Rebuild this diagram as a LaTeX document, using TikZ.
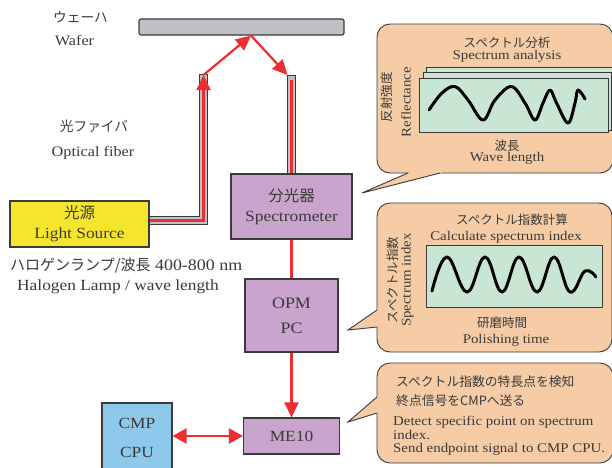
\documentclass[tikz,border=0pt]{standalone}
\usepackage{fontspec}
\setmainfont{Liberation Serif}[FakeStretch=1.12]
\newfontfamily\jpfont{Noto Sans CJK JP}
\usepackage{tikz}
\usetikzlibrary{arrows.meta, calc, positioning}
\definecolor{Ink}       {HTML}{3A3A3A}
\definecolor{LampYellow}{HTML}{F5E62B}
\definecolor{Lilac}     {HTML}{C9A4CD}
\definecolor{SkyBlue}   {HTML}{8EC9EC}
\definecolor{Peach}     {HTML}{F6CCA6}
\definecolor{Mint}      {HTML}{C9E6D4}
\definecolor{WaferGrey} {HTML}{BEC0C6}
\definecolor{RayRed}    {HTML}{EE2D30}
\tikzset{
  ray/.style={draw=RayRed, line width=2.2pt},
  ray arrow/.style={ray, -{Triangle[length=15pt,width=14pt]}},
  ray both/.style={ray, {Triangle[length=14pt,width=15pt]}-{Triangle[length=14pt,width=15pt]}},
}
\begin{document}
\begin{tikzpicture}[x=1pt, y=-1pt, text=Ink,
    box/.style={draw=Ink, line width=1.1pt, fill=Lilac, align=center,
                inner sep=0pt, font=\fontsize{15.5}{20}\selectfont},
    speech/.style={draw=Ink, line width=0.9pt, fill=Peach, rounded corners=13pt},
    panel/.style={draw=Ink, line width=1pt, fill=Mint},
    wave/.style={line width=3pt, line cap=round, line join=round},
    sidetext/.style={inner sep=0pt, font=\fontsize{14.5}{17}\selectfont},
    jpside/.style={inner sep=0pt, font=\jpfont\fontsize{13.7}{16}\selectfont},
    speechtext/.style={inner sep=0pt, font=\fontsize{13.3}{14}\selectfont},
    jpspeech/.style={inner sep=0pt, font=\jpfont\fontsize{12.5}{15}\selectfont},
    fiber/.style={line width=9.5pt, draw=Ink},
    fiber core/.style={line width=7.5pt, draw=WaferGrey}]
  \useasboundingbox (0,0) rectangle (612,467);
  \fill[white] (0,0) rectangle (612,467);
  \clip (0,0) rectangle (612,467);
  % Boxes
  \node[box, fill=WaferGrey, minimum width=205pt, minimum height=16pt,
        rounded corners=2pt] (wafer) at (241.5,27) {};
  \node[box, fill=LampYellow, minimum width=139pt, minimum height=46pt] (lamp)
        at (79.5,224) {{\jpfont 光源}\\Light Source};
  \node[box, minimum width=121pt, minimum height=65pt] (spec)
        at (291.5,206.5) {{\jpfont 分光器}\\Spectrometer};
  \node[box, minimum width=93pt, minimum height=73pt,
        font=\fontsize{16}{25}\selectfont] (opm) at (291.5,315.5) {OPM\\PC};
  \node[box, minimum width=96pt, minimum height=36pt] (me10) at (291.5,436) {ME10};
  \node[box, fill=SkyBlue, minimum width=70pt, minimum height=69pt,
        font=\fontsize{15.5}{29}\selectfont] (cmp) at (137,437.5) {CMP\\CPU};
  % Side labels
  \node[jpside]   (waferjp) at (80.5,17.5) {ウェーハ};
  \node[sidetext] (waferen) at (74.5,40) {Wafer};
  \node[jpside]   (fiberjp) at (94,126.5) {光ファイバ};
  \node[sidetext] (fiberen) at (93,153) {Optical fiber};
  \node[sidetext, anchor=west, font=\fontsize{16}{18}\selectfont] (lampjp)
        at (10,265.5) {{\jpfont\fontsize{15}{18}\selectfont ハロゲンランプ/波長} 400-800 nm};
  \node[sidetext, anchor=west, font=\fontsize{15.5}{18}\selectfont] (lampen)
        at (17,286.5) {Halogen Lamp / wave length};
  % Optical fibers
  \coordinate (fibL) at (203.5,75);
  \coordinate (fibR) at (291.5,76);
  \coordinate (refl) at ([xshift=9.5pt]wafer.south);
  \draw[fiber, shorten >=-1pt] ([yshift=3.5pt]lamp.east) -| (fibL);
  \draw[fiber core] ([yshift=3.5pt]lamp.east) -| (fibL);
  \draw[ray arrow] ([yshift=3.5pt]lamp.east) -| (fibL);
  \draw[fiber, shorten >=-1pt] (spec.north) -- (fibR);
  \draw[fiber core] (spec.north) -- (fibR);
  \draw[ray] (spec.north) -- ([yshift=-4pt]fibR);
  \draw[ray arrow] (fibL) -- (refl);
  \draw[ray arrow] (refl) -- ([xshift=-4pt,yshift=1pt]fibR);
  % Signal path
  \draw[ray] (spec) -- (opm);
  \draw[ray arrow] (opm) -- (me10);
  \draw[ray both] (cmp.east |- me10.west) -- (me10.west);
  % Speech bubble: spectrum analysis
  \draw[speech] (377,24) rectangle (613,173);
  \coordinate (tipA) at (362,193);
  \coordinate (baseA1) at (408,173);
  \coordinate (baseA2) at (440,173);
  \fill[Peach] (tipA) -- ($(tipA)!1.12!(baseA1)$) -- ($(tipA)!1.12!(baseA2)$) -- cycle;
  \draw[Ink, line width=0.9pt] (baseA1) -- (tipA) -- (baseA2);
  \draw[panel] (426.5,67) rectangle (616,128);
  \draw[panel] (423,72.5) rectangle (611.5,130);
  \draw[panel] (419,78) rectangle (608,132);
  \draw[wave] plot[smooth, tension=0.6] coordinates {(429,110) (441.5,93.5)
    (455,86.5) (468,100) (483,120) (495,100) (511.5,86.5) (525,103) (535,120)
    (543,103) (550,90) (556.5,103) (568,123) (575,103) (578,90) (585,99)};
  \node[jpspeech]   (anajp) at (507,42.5) {スペクトル分析};
  \node[speechtext] (anaen) at (507,56.5) {Spectrum analysis};
  \node[jpspeech, rotate=90]   (refjp) at (387,97) {反射強度};
  \node[speechtext, rotate=90] (refen) at (406,102) {Reflectance};
  \node[jpspeech]   (wavejp) at (507,145.5) {波長};
  \node[speechtext] (waveen) at (507,158.5) {Wave length};
  % Speech bubble: spectrum index
  \draw[speech] (377,203) rectangle (612,352);
  \coordinate (tipB) at (348,330);
  \coordinate (baseB1) at (377,310);
  \coordinate (baseB2) at (377,327);
  \fill[Peach] (tipB) -- ($(tipB)!1.12!(baseB1)$) -- ($(tipB)!1.12!(baseB2)$) -- cycle;
  \draw[Ink, line width=0.9pt] (baseB1) -- (tipB) -- (baseB2);
  \draw[panel] (426,245) rectangle (602,307);
  \draw[wave] plot[smooth, tension=0.7] coordinates {(432,291) (447,257)
    (467,292) (485,257) (502,292) (519,257) (537,292) (554,257) (570,292)
    (585,271) (596,277)};
  \node[jpspeech]   (idxjp) at (512,219.5) {スペクトル指数計算};
  \node[speechtext] (idxen) at (506,237) {Calculate spectrum index};
  \node[jpspeech, rotate=90]   (sijp) at (393,280) {スペクトル指数};
  \node[speechtext, rotate=90] (sien) at (407.5,280) {Spectrum index};
  \node[jpspeech]   (poljp) at (502,323) {研磨時間};
  \node[speechtext] (polen) at (506,340) {Polishing time};
  % Speech bubble: endpoint detection
  \draw[speech] (377,363) rectangle (613,463);
  \coordinate (tipC) at (348,422);
  \coordinate (baseC1) at (377,397);
  \coordinate (baseC2) at (377,413);
  \fill[Peach] (tipC) -- ($(tipC)!1.12!(baseC1)$) -- ($(tipC)!1.12!(baseC2)$) -- cycle;
  \draw[Ink, line width=0.9pt] (baseC1) -- (tipC) -- (baseC2);
  \node[jpspeech, anchor=base west, font=\jpfont\fontsize{12.8}{15}\selectfont]
        (detjp1) at (396,386) {スペクトル指数の特長点を検知};
  \node[jpspeech, anchor=base west, font=\jpfont\fontsize{12.8}{15}\selectfont]
        (detjp2) at (396,405) {終点信号をCMPへ送る};
  \node[speechtext, anchor=base west] (deten1) at (393,425) {Detect specific point on spectrum};
  \node[speechtext, anchor=base west] (deten2) at (393,439) {index.};
  \node[speechtext, anchor=base west] (deten3) at (393,452.5) {Send endpoint signal to CMP CPU.};
\end{tikzpicture}
\end{document}
